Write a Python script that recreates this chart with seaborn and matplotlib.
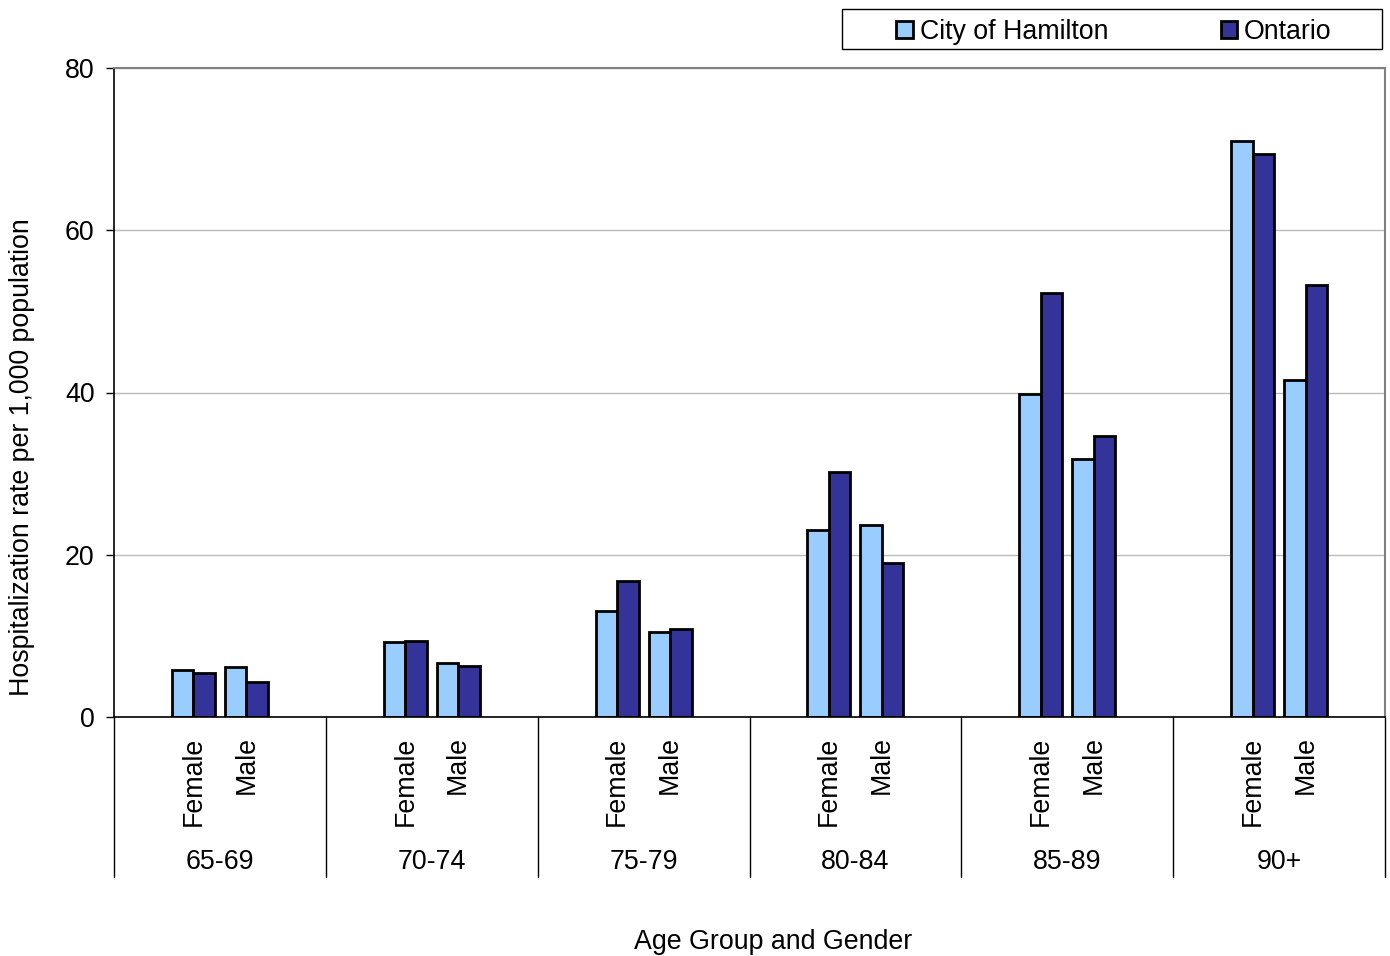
import pandas as pd
import seaborn as sns
import matplotlib.pyplot as plt
from matplotlib.patches import Patch, Rectangle

# --- Data ---
AGE_GROUPS = ["65-69", "70-74", "75-79", "80-84", "85-89", "90+"]
GENDERS = ["Female", "Male"]
REGIONS = ["City of Hamilton", "Ontario"]

HAMILTON_FEMALE = [5.8, 9.3, 13.1, 23.0, 39.8, 71.0]
HAMILTON_MALE = [6.2, 6.7, 10.5, 23.7, 31.8, 41.6]
ONTARIO_FEMALE = [5.4, 9.4, 16.8, 30.2, 52.3, 69.4]
ONTARIO_MALE = [4.3, 6.3, 10.9, 19.0, 34.6, 53.3]

Y_TICKS = [0, 20, 40, 60, 80]
COLORS = ["#99CCFF", "#333399"]

# --- Build long table; each age group has 4 slots: pad, Female, Male, pad ---
rows = []
series = {
    ("City of Hamilton", "Female"): HAMILTON_FEMALE,
    ("City of Hamilton", "Male"): HAMILTON_MALE,
    ("Ontario", "Female"): ONTARIO_FEMALE,
    ("Ontario", "Male"): ONTARIO_MALE,
}
for (region, gender), vals in series.items():
    for age, v in zip(AGE_GROUPS, vals):
        rows.append({"slot": f"{age}|{gender}", "region": region, "rate": v})
df = pd.DataFrame(rows)

order = []
for age in AGE_GROUPS:
    order += [f"{age}|pad0", f"{age}|Female", f"{age}|Male", f"{age}|pad1"]

# --- Figure ---
sns.set_theme(style="white")
plt.rcParams["font.family"] = ["Liberation Sans", "DejaVu Sans"]
plt.rcParams.update({"text.color": "black", "axes.labelcolor": "black",
                     "xtick.color": "black", "ytick.color": "black"})
FS = 19.3

W, H = 1390, 956
fig = plt.figure(figsize=(W / 100, H / 100), dpi=100)
L, R, T, B = 114, 1385, 68, 717
ax = fig.add_axes([L / W, 1 - B / H, (R - L) / W, (B - T) / H])

sns.barplot(
    data=df, x="slot", y="rate", hue="region",
    order=order, hue_order=REGIONS, palette=COLORS,
    width=0.81, edgecolor="black", linewidth=2.0, saturation=1,
    errorbar=None, legend=False, ax=ax,
)
ax.set_xlabel("")
ax.set_ylabel("")

ax.set_xlim(-0.5, len(order) - 0.5)
ax.set_ylim(0, 80)
ax.set_yticks(Y_TICKS)
ax.set_yticklabels([str(t) for t in Y_TICKS], fontsize=FS)
ax.yaxis.grid(True, color="#BBBBBB", linewidth=1)
ax.set_axisbelow(True)
ax.tick_params(axis="y", left=True, length=6, width=1, color="black", pad=8)

# Gender tick labels
gpos = [i for i, s in enumerate(order) if s.split("|")[1] in GENDERS]
ax.set_xticks(gpos)
ax.set_xticklabels([order[i].split("|")[1] for i in gpos], rotation=90,
                   fontsize=FS, va="top", ha="center")
ax.tick_params(axis="x", length=0, pad=14)

# Spines
for s in ["left", "bottom"]:
    ax.spines[s].set_color("black")
    ax.spines[s].set_linewidth(1.2)
for s in ["top", "right"]:
    ax.spines[s].set_color("#808080")
    ax.spines[s].set_linewidth(1.5)

# Age group labels and separators below the axis
trans = ax.get_xaxis_transform()
ah = B - T
for g, age in enumerate(AGE_GROUPS):
    ax.text(4 * g + 1.5, -(862 - B) / ah, age, transform=trans,
            ha="center", va="center", fontsize=FS)
for g in range(len(AGE_GROUPS) + 1):
    ax.plot([4 * g - 0.5, 4 * g - 0.5], [0, -(877 - B) / ah], transform=trans,
            color="black", linewidth=1, clip_on=False)

fig.text(773 / W, 1 - 942 / H, "Age Group and Gender", fontsize=FS,
         ha="center", va="center")
fig.text(22 / W, 1 - 457 / H, "Hospitalization rate per 1,000 population",
         fontsize=FS, ha="center", va="center", rotation=90)

# Legend box
fig.patches.append(Rectangle((842 / W, 1 - 49 / H), 540 / W, 40 / H,
                             transform=fig.transFigure, facecolor="white",
                             edgecolor="black", linewidth=1))
handles = [Patch(facecolor=c, edgecolor="black", linewidth=2.0) for c in COLORS]
fig.legend(handles, REGIONS, loc="center",
           bbox_to_anchor=(1114 / W, 1 - 32 / H), ncol=2, frameon=False,
           fontsize=FS, handlelength=0.62, handleheight=0.62,
           handletextpad=0.25, columnspacing=4.2)

fig.savefig("out.png", dpi=100)
